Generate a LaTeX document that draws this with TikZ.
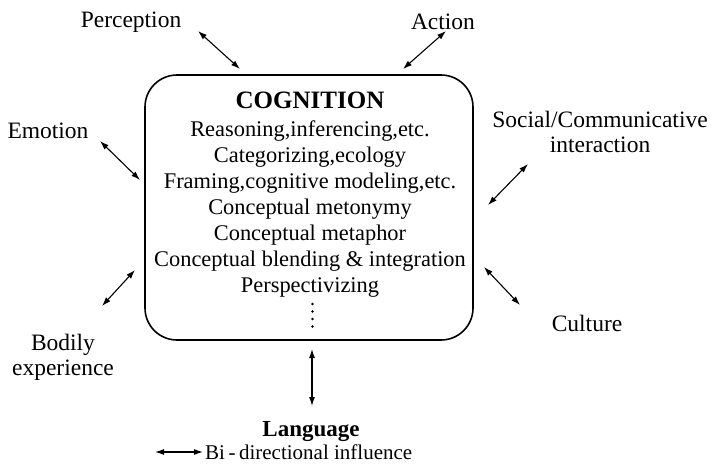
\documentclass[tikz,border=0pt]{standalone}
\usepackage{fontspec}
\setmainfont{Liberation Serif}
\usetikzlibrary{arrows.meta}
\begin{document}
\begin{tikzpicture}[x=1pt,y=-1pt,
  lbl/.style={font=\fontsize{23.5}{25}\selectfont, align=center, inner sep=0pt},
  bi/.style={line width=1.1pt, {Latex[length=9pt,width=6pt]}-{Latex[length=9pt,width=6pt]}}]
\useasboundingbox (0,0) rectangle (711,466);
% box
\node[draw, line width=1.6pt, rounded corners=32pt, minimum width=328pt, minimum height=265pt, inner sep=0pt] (cog) at (309,207.5) {};
\node[font=\fontsize{22.4}{26}\selectfont, align=center, inner sep=0pt, anchor=north] (items) at (310,92)
 {{\bfseries\fontsize{25}{26}\selectfont COGNITION}\\[2pt]
  Reasoning,inferencing,etc.\\
  Categorizing,ecology\\
  Framing,cognitive modeling,etc.\\
  Conceptual metonymy\\
  Conceptual metaphor\\
  Conceptual blending \& integration\\
  Perspectivizing};
\foreach \yy in {304,311.5,319,326.5} \fill (312.5,\yy) circle (1.4pt);
% labels
\node[lbl] (perc) at (131,22) {Perception};
\node[lbl] (act) at (443,22) {Action};
\node[lbl] (emo) at (48,131) {Emotion};
\node[lbl] (soc) at (600,132) {Social/Communicative\\interaction};
\node[lbl] (body) at (63,357) {Bodily\\experience};
\node[lbl] (cult) at (587,323) {Culture};
\node[lbl, font=\bfseries\fontsize{23}{25}\selectfont] (lang) at (311,431) {Language};
% arrow ends
\coordinate (p1) at (198,31); \coordinate (p2) at (240,69);
\coordinate (a1) at (446,31); \coordinate (a2) at (403,69);
\coordinate (e1) at (100,141); \coordinate (e2) at (140,180);
\coordinate (s1) at (528,164); \coordinate (s2) at (488,205);
\coordinate (b1) at (102,306); \coordinate (b2) at (135,270);
\coordinate (c1) at (484,267); \coordinate (c2) at (520,305);
\coordinate (l1) at (312,349); \coordinate (l2) at (312,406);
\draw[bi] (p1) -- (p2);
\draw[bi] (a1) -- (a2);
\draw[bi] (e1) -- (e2);
\draw[bi] (s1) -- (s2);
\draw[bi] (b1) -- (b2);
\draw[bi] (c1) -- (c2);
\draw[bi] (l1) -- (l2);
% legend
\coordinate (k1) at (155,452); \coordinate (k2) at (203,452);
\draw[bi] (k1) -- (k2);
\node[font=\fontsize{21}{24}\selectfont, anchor=west, inner sep=0pt] (leg) at (205,452) {Bi\,-\,directional influence};
\end{tikzpicture}
\end{document}
